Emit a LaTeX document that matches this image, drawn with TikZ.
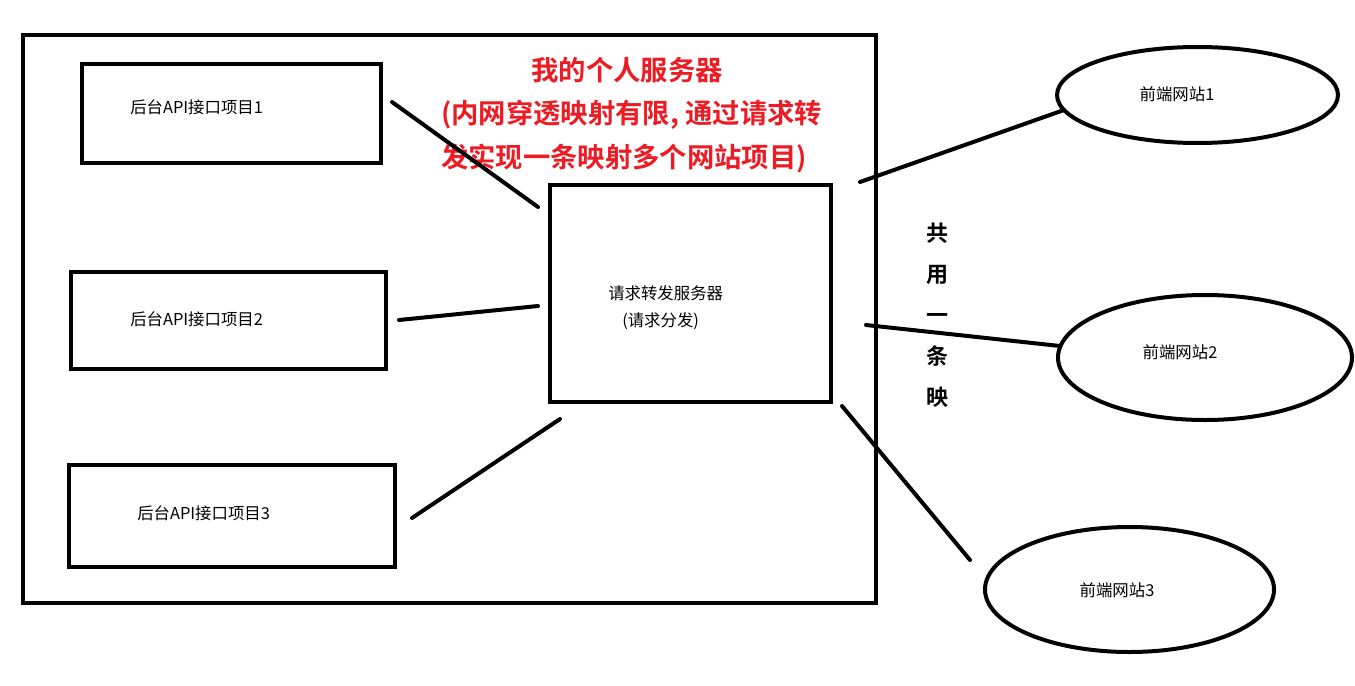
\documentclass[tikz,border=0pt]{standalone}
\usepackage{fontspec}
\setmainfont{Noto Sans CJK SC}[BoldFont={Noto Sans CJK SC Bold}]
\usetikzlibrary{positioning,shapes.geometric}
\definecolor{paintred}{RGB}{237,28,36}
\tikzset{
  frame/.style={draw=black,line width=3pt,inner sep=0pt},
  apibox/.style={draw=black,line width=3pt,inner sep=0pt},
  site/.style={ellipse,draw=black,line width=3pt,inner sep=0pt},
  wire/.style={line width=3pt,line cap=round},
  label/.style={font=\fontsize{12.3}{21}\selectfont,inner sep=0pt},
  note/.style={font=\fontsize{20.5}{33}\selectfont\bfseries,text=paintred,inner sep=0pt},
  vert/.style={font=\fontsize{16.5}{30.75}\selectfont\bfseries,align=center,inner sep=0pt}
}

\begin{document}
\begin{tikzpicture}[x=0.75pt,y=-0.75pt]
  \useasboundingbox (0,0) rectangle (1355,685);
  % personal server frame
  \node[frame,minimum width=639.75pt,minimum height=426pt] (server) at (449.5,319) {};
  \node[note] (title) at (627,70) {我的个人服务器};
  \node[note,anchor=west,align=left] (titlenote) at (441,137)
    {(内网穿透映射有限, 通过请求转\\发实现一条映射多个网站项目)};
  % backend projects
  \node[apibox,minimum width=224.25pt,minimum height=74.25pt] (api1) at (231.5,113.5) {};
  \node[apibox,minimum width=236.25pt,minimum height=72.75pt] (api2) at (228.5,320.5) {};
  \node[apibox,minimum width=244.5pt,minimum height=76.5pt] (api3) at (232,516) {};
  \node[label,anchor=west] (api1txt) at (130,107) {后台API接口项目1};
  \node[label,anchor=west] (api2txt) at (130,319) {后台API接口项目2};
  \node[label,anchor=west] (api3txt) at (137,513) {后台API接口项目3};
  % forwarding server
  \node[apibox,minimum width=210.75pt,minimum height=162.75pt] (fwd) at (690.5,293.5) {};
  \node[label,anchor=west] (fwdtxt) at (608,293) {请求转发服务器};
  \node[label,anchor=west] (fwdsub) at (622,321) {(请求分发)};
  % front-end sites
  \node[site,minimum width=210.75pt,minimum height=72pt] (web1) at (1197.5,95) {};
  \node[site,minimum width=220.5pt,minimum height=93.75pt] (web2) at (1205,357.5) {};
  \node[site,minimum width=216.75pt,minimum height=93.75pt] (web3) at (1129.5,589.5) {};
  \node[label] (web1txt) at (1177,94) {前端网站1};
  \node[label] (web2txt) at (1180,352) {前端网站2};
  \node[label] (web3txt) at (1117,590) {前端网站3};
  \node[vert] (shared) at (937,315) {共\\用\\一\\条\\映};
  % loose connector ends
  \coordinate (a1) at (392,102);  \coordinate (f1) at (538,207);
  \coordinate (a2) at (399,320);  \coordinate (f2) at (538,306);
  \coordinate (a3) at (412,518);  \coordinate (f3) at (560,419);
  \coordinate (g1) at (860,182);  \coordinate (w1) at (1064,110);
  \coordinate (g2) at (866,325);  \coordinate (w2) at (1060,346);
  \coordinate (g3) at (842,406);  \coordinate (w3) at (970,560);
  \draw[wire] (a1) -- (f1);
  \draw[wire] (a2) -- (f2);
  \draw[wire] (a3) -- (f3);
  \draw[wire] (g1) -- (w1);
  \draw[wire] (g2) -- (w2);
  \draw[wire] (g3) -- (w3);
\end{tikzpicture}
\end{document}
